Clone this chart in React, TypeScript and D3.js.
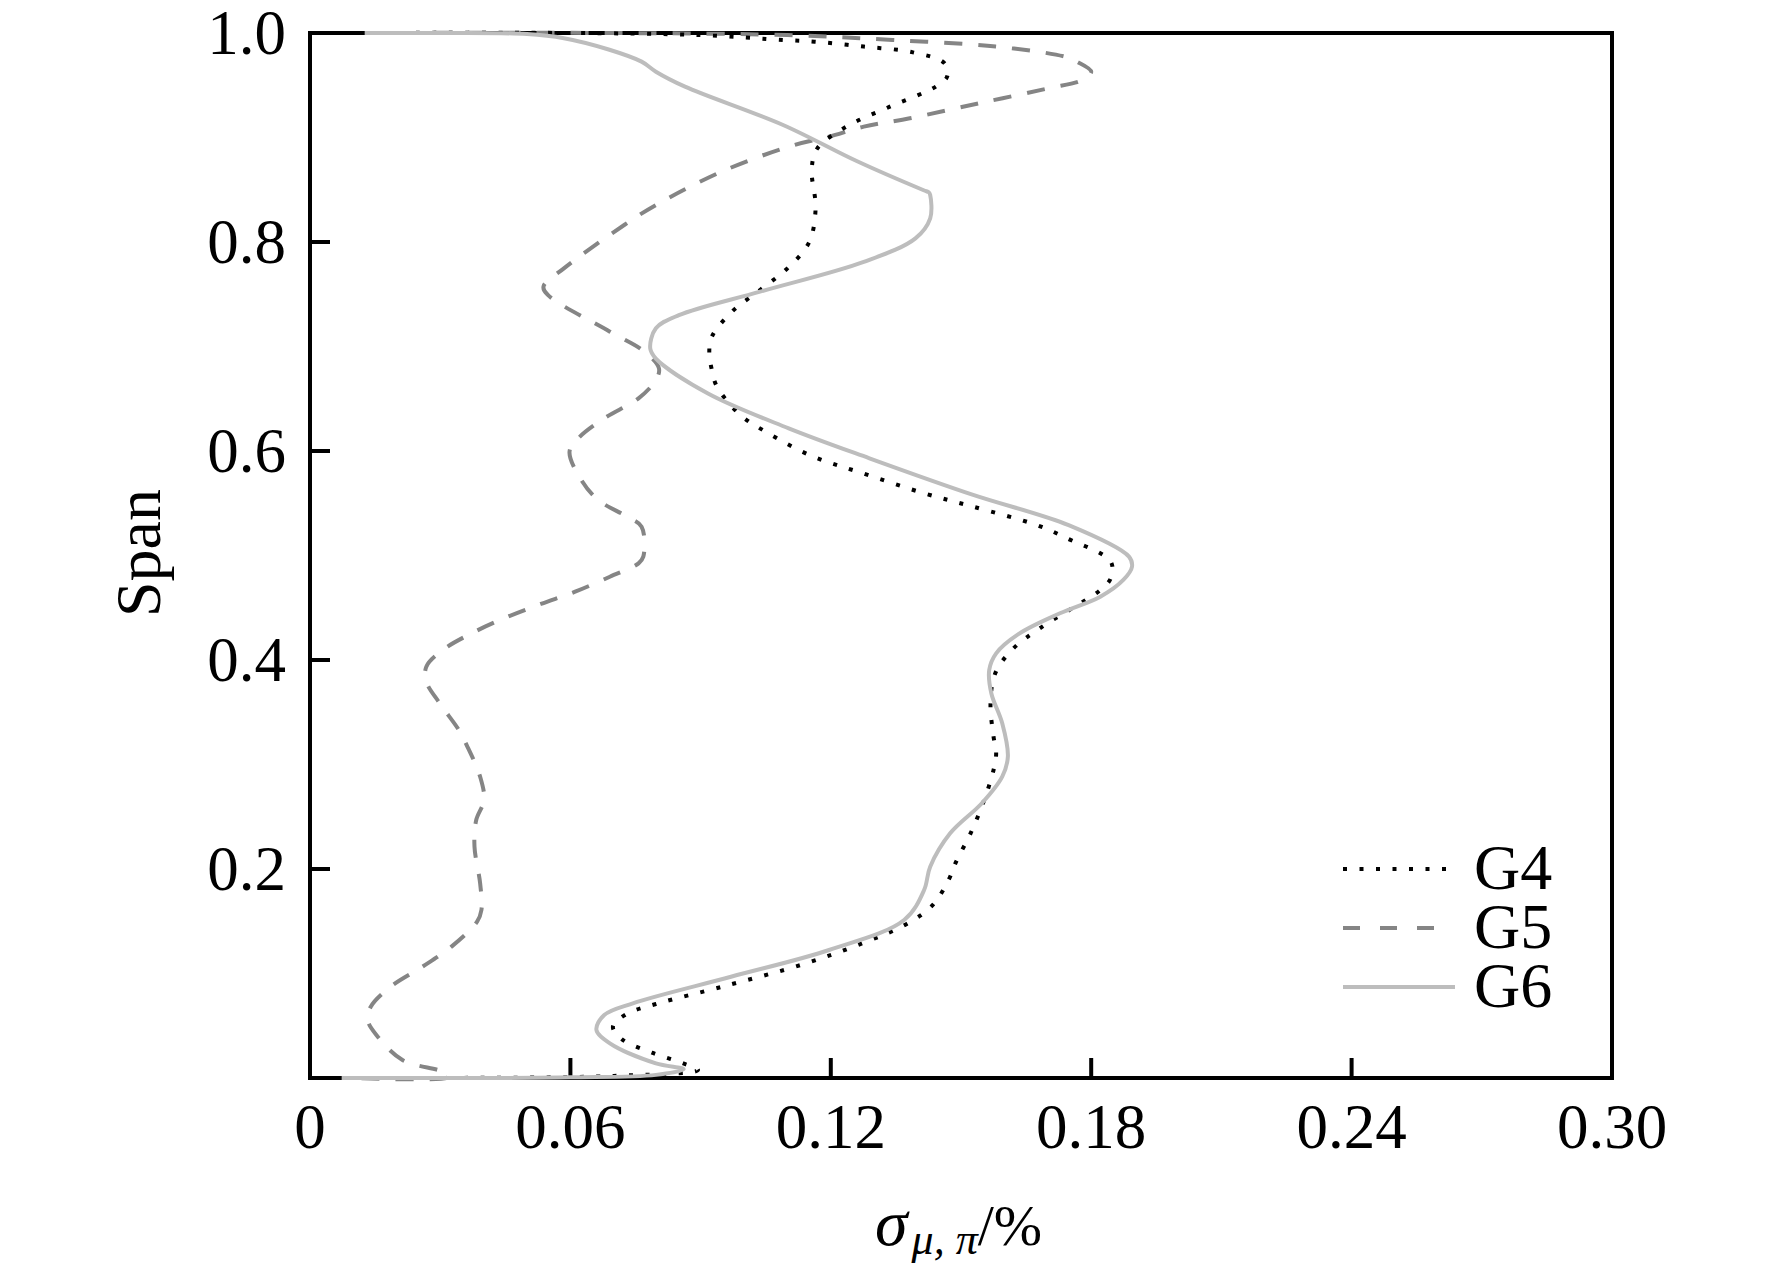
import React, { useEffect, useRef } from "react";
import * as d3 from "d3";

const xTickValues = [0, 0.06, 0.12, 0.18, 0.24, 0.3];
const xTickLabels = ["0", "0.06", "0.12", "0.18", "0.24", "0.30"];
const yTickValues = [0.2, 0.4, 0.6, 0.8, 1.0];
const yTickLabels = ["0.2", "0.4", "0.6", "0.8", "1.0"];

const seriesNames = ["G4", "G5", "G6"];

// [span, sigma]
const g4: [number, number][] = [
  [1.0, 0.013], [1.0, 0.06], [0.998, 0.09], [0.9933, 0.109], [0.9917, 0.1163], [0.987, 0.1276],
  [0.9815, 0.1389], [0.971, 0.1462], [0.9582, 0.1468], [0.9487, 0.1442], [0.9295, 0.1336],
  [0.9104, 0.1236], [0.8896, 0.1169], [0.87, 0.1156], [0.8322, 0.1165], [0.7997, 0.115],
  [0.7748, 0.11], [0.7541, 0.1037], [0.734, 0.0974], [0.7094, 0.0926], [0.6935, 0.092],
  [0.6775, 0.0926], [0.6622, 0.0937], [0.635, 0.099], [0.617, 0.1056], [0.5952, 0.1156],
  [0.5793, 0.1269], [0.5595, 0.1415], [0.5467, 0.1528], [0.5292, 0.1674], [0.5165, 0.1744],
  [0.4941, 0.1845], [0.4782, 0.1845], [0.4669, 0.1821], [0.4574, 0.1787], [0.4313, 0.1685],
  [0.4112, 0.1621], [0.3873, 0.1579], [0.3585, 0.1568], [0.3266, 0.1575], [0.3107, 0.1581],
  [0.2947, 0.1575], [0.2644, 0.1552], [0.2341, 0.1522], [0.2064, 0.1488], [0.1901, 0.1472],
  [0.1656, 0.1435], [0.1474, 0.1375], [0.1295, 0.1276], [0.1088, 0.1136], [0.0874, 0.095],
  [0.0708, 0.0797], [0.0609, 0.0728], [0.0491, 0.0698], [0.0373, 0.0718], [0.0242, 0.0788],
  [0.014, 0.086], [0.0077, 0.0894], [0.002, 0.07], [0.0, 0.03], [0.0, 0.008],
];

const g5: [number, number][] = [
  [1.0, 0.013], [1.0, 0.07], [0.998, 0.11], [0.9933, 0.1342], [0.987, 0.158], [0.9773, 0.174],
  [0.9726, 0.1767], [0.963, 0.18], [0.955, 0.178], [0.947, 0.17], [0.9327, 0.1541],
  [0.9184, 0.1382], [0.9104, 0.1276], [0.9008, 0.1196], [0.8928, 0.1116], [0.8689, 0.0957],
  [0.8354, 0.0797], [0.8163, 0.0724], [0.7748, 0.0585], [0.7573, 0.0538], [0.7493, 0.0548],
  [0.7142, 0.0691], [0.695, 0.0771], [0.6791, 0.0804], [0.668, 0.0797], [0.6504, 0.0757],
  [0.6313, 0.0678], [0.6121, 0.0618], [0.5994, 0.0598], [0.5723, 0.0625], [0.5531, 0.0664],
  [0.5371, 0.0731], [0.5276, 0.0764], [0.4989, 0.0768], [0.4925, 0.0757], [0.4797, 0.0691],
  [0.4654, 0.0611], [0.4536, 0.0532], [0.4408, 0.0452], [0.4255, 0.0372], [0.4096, 0.0306],
  [0.3936, 0.0268], [0.3793, 0.0268], [0.3585, 0.0299], [0.333, 0.0343], [0.3186, 0.0361],
  [0.2884, 0.0392], [0.2661, 0.0401], [0.2469, 0.0383], [0.2214, 0.0379], [0.1863, 0.0392],
  [0.1608, 0.0395], [0.1496, 0.0385], [0.1257, 0.0326], [0.1065, 0.0259], [0.0874, 0.0186],
  [0.0682, 0.014], [0.0555, 0.0133], [0.0411, 0.0153], [0.0172, 0.0213], [0.006, 0.0306],
  [0.001, 0.032], [0.0, 0.01],
];

const g6: [number, number][] = [
  [1.0, 0.0126], [1.0, 0.03], [0.999, 0.05], [0.995, 0.0585], [0.984, 0.069], [0.9726, 0.0764],
  [0.963, 0.0797], [0.9487, 0.0864], [0.912, 0.109], [0.877, 0.1262], [0.8495, 0.1414],
  [0.8475, 0.1426], [0.845, 0.1429], [0.8227, 0.1429], [0.8035, 0.1395], [0.781, 0.1276],
  [0.7525, 0.1037], [0.73, 0.085], [0.7174, 0.0797], [0.698, 0.0784], [0.6884, 0.0797],
  [0.655, 0.0917], [0.6217, 0.1103], [0.593, 0.1289], [0.558, 0.1528], [0.529, 0.1748],
  [0.4989, 0.1887], [0.4893, 0.1894], [0.4766, 0.1874], [0.4606, 0.1821], [0.4447, 0.1728],
  [0.4255, 0.1635], [0.4064, 0.1581], [0.3904, 0.1565], [0.368, 0.157], [0.3394, 0.1595],
  [0.3075, 0.1608], [0.2884, 0.1595], [0.2629, 0.1548], [0.2341, 0.1475], [0.2022, 0.1429],
  [0.1799, 0.1415], [0.1512, 0.1369], [0.1225, 0.1196], [0.0969, 0.097], [0.0715, 0.0744],
  [0.0603, 0.0678], [0.0459, 0.066], [0.0332, 0.0691], [0.014, 0.0797], [0.0083, 0.0861],
  [0.003, 0.0797], [0.0006, 0.06], [0.0, 0.0073],
];

const W = 1772;
const H = 1278;
const FONT = "'Liberation Serif', 'Times New Roman', Times, serif";

export default function App() {
  const ref = useRef<SVGSVGElement | null>(null);

  useEffect(() => {
    document.body.style.margin = "0";
    const svg = d3.select(ref.current);
    svg.selectAll("*").remove();

    const x = d3.scaleLinear().domain([0, 0.3]).range([310, 1612]);
    const y = d3.scaleLinear().domain([0, 1]).range([1078, 33]);

    const styles = [
      { data: g5, stroke: "#858585", width: 4, dash: "18 16", name: seriesNames[1] },
      { data: g4, stroke: "#000000", width: 4, dash: "4 12.5", name: seriesNames[0] },
      { data: g6, stroke: "#bdbdbd", width: 4, dash: null, name: seriesNames[2] },
    ];

    // frame
    svg
      .append("rect")
      .attr("x", x(0))
      .attr("y", y(1))
      .attr("width", x(0.3) - x(0))
      .attr("height", y(0) - y(1))
      .attr("fill", "none")
      .attr("stroke", "#000")
      .attr("stroke-width", 4);

    // x ticks (inward)
    const gx = svg.append("g");
    xTickValues.forEach((v, i) => {
      if (v > 0 && v < 0.3) {
        gx.append("line")
          .attr("x1", x(v)).attr("x2", x(v))
          .attr("y1", y(0)).attr("y2", y(0) - 20)
          .attr("stroke", "#000").attr("stroke-width", 4);
      }
      gx.append("text")
        .attr("x", x(v))
        .attr("y", 1148)
        .attr("text-anchor", "middle")
        .attr("font-family", FONT)
        .attr("font-size", 63)
        .attr("fill", "#000")
        .text(xTickLabels[i]);
    });

    // y ticks (inward)
    const gy = svg.append("g");
    yTickValues.forEach((v, i) => {
      if (v < 1) {
        gy.append("line")
          .attr("x1", x(0)).attr("x2", x(0) + 20)
          .attr("y1", y(v)).attr("y2", y(v))
          .attr("stroke", "#000").attr("stroke-width", 4);
      }
      gy.append("text")
        .attr("x", 286)
        .attr("y", y(v))
        .attr("dy", "0.34em")
        .attr("text-anchor", "end")
        .attr("font-family", FONT)
        .attr("font-size", 63)
        .attr("fill", "#000")
        .text(yTickLabels[i]);
    });

    const line = d3
      .line<[number, number]>()
      .x((d) => x(d[1]))
      .y((d) => y(d[0]))
      .curve(d3.curveCatmullRom.alpha(0.5));

    styles.forEach((s) => {
      const p = svg
        .append("path")
        .datum(s.data)
        .attr("d", line)
        .attr("fill", "none")
        .attr("stroke", s.stroke)
        .attr("stroke-width", s.width)
        .attr("stroke-linejoin", "round");
      if (s.dash) p.attr("stroke-dasharray", s.dash);
    });

    // legend
    const legend = [
      { name: seriesNames[0], stroke: "#000", dash: "4 12.5", x2: 1447, y: 869 },
      { name: seriesNames[1], stroke: "#858585", dash: "17 20", x2: 1434, y: 928 },
      { name: seriesNames[2], stroke: "#bdbdbd", dash: null, x2: 1455, y: 987 },
    ];
    legend.forEach((l) => {
      const ln = svg
        .append("line")
        .attr("x1", 1343)
        .attr("x2", l.x2)
        .attr("y1", l.y)
        .attr("y2", l.y)
        .attr("stroke", l.stroke)
        .attr("stroke-width", 4);
      if (l.dash) ln.attr("stroke-dasharray", l.dash);
      svg
        .append("text")
        .attr("x", 1474)
        .attr("y", l.y + 20)
        .attr("font-family", FONT)
        .attr("font-size", 64)
        .attr("fill", "#000")
        .text(l.name);
    });

    // y label
    svg
      .append("text")
      .attr("transform", "translate(160,553) rotate(-90)")
      .attr("text-anchor", "middle")
      .attr("font-family", FONT)
      .attr("font-size", 64)
      .attr("fill", "#000")
      .text("Span");

    // x label
    const xl = svg
      .append("text")
      .attr("x", 875)
      .attr("y", 1245)
      .attr("font-family", FONT)
      .attr("fill", "#000");
    xl.append("tspan").attr("font-style", "italic").attr("font-size", 66).text("σ");
    xl.append("tspan").attr("font-style", "italic").attr("font-size", 44).attr("dy", 9).attr("dx", 4).text("μ, π");
    xl.append("tspan").attr("font-size", 58).attr("dy", -9).text("/%");
  }, []);

  return (
    <svg
      ref={ref}
      width={W}
      height={H}
      viewBox={`0 0 ${W} ${H}`}
      style={{ display: "block", position: "absolute", left: 0, top: 0, background: "#fff" }}
    />
  );
}
